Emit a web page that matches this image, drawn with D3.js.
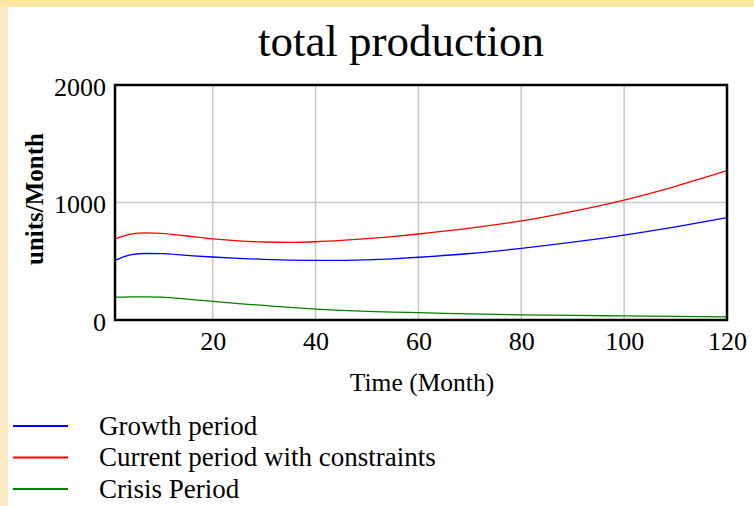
<!DOCTYPE html>
<html>
<head>
<meta charset="utf-8">
<script src="https://cdn.jsdelivr.net/npm/d3@7"></script>
<style>
  html, body { margin: 0; padding: 0; background: #fbebc2; }
  svg { display: block; }
</style>
</head>
<body>
<svg id="chart" width="754" height="506"></svg>
<script>
const times = [1, 4, 7, 10, 15, 20, 25, 30, 35, 40, 45, 50, 55, 60, 70, 80, 90, 100, 110, 120];
const growthPeriod = [508, 555, 566, 565, 550, 536, 525, 516, 510, 508, 507, 512, 521, 534, 566, 610, 662, 723, 793, 871];
const currentPeriod = [690, 730, 742, 738, 715, 690, 673, 664, 661, 666, 677, 692, 710, 732, 782, 843, 925, 1021, 1138, 1271];
const crisisPeriod = [195, 197, 197, 194, 178, 158, 140, 124, 107, 93, 82, 73, 67, 62, 52, 44, 39, 35, 31, 27];
const seriesNames = ["Growth period", "Current period with constraints", "Crisis Period"];
const seriesColors = ["#0000ff", "#ff0000", "#008000"];
const xTicks = [20, 40, 60, 80, 100, 120];
const yTicks = [0, 1000, 2000];

const svg = d3.select("#chart");
const W = 754, H = 506;
const font = "'Liberation Serif', 'DejaVu Serif', serif";

// background panels
svg.append("rect").attr("x", 0).attr("y", 0).attr("width", W).attr("height", 7).attr("fill", "#fde6a2");
svg.append("rect").attr("x", 0).attr("y", 7).attr("width", 8).attr("height", H - 7).attr("fill", "#faebc2");
svg.append("rect").attr("x", 8).attr("y", 7).attr("width", W - 8).attr("height", H - 7).attr("fill", "#ffffff");

const m = { left: 115, right: 727, top: 85, bottom: 320 };
const x = d3.scaleLinear().domain([1, 120]).range([m.left, m.right]);
const y = d3.scaleLinear().domain([0, 2000]).range([m.bottom, m.top]);

// gridlines
const g = svg.append("g");
g.selectAll("line.vg").data(xTicks.filter(t => t < 120)).join("line")
  .attr("x1", d => x(d)).attr("x2", d => x(d))
  .attr("y1", m.top).attr("y2", m.bottom)
  .attr("stroke", "#c8c8c8").attr("stroke-width", 1.5);
g.selectAll("line.hg").data(yTicks.filter(t => t > 0 && t < 2000)).join("line")
  .attr("x1", m.left).attr("x2", m.right)
  .attr("y1", d => y(d)).attr("y2", d => y(d))
  .attr("stroke", "#c8c8c8").attr("stroke-width", 1.5);

// series
const allSeries = [growthPeriod, currentPeriod, crisisPeriod];
const line = d3.line().x(d => x(d[0])).y(d => y(d[1])).curve(d3.curveMonotoneX);
allSeries.forEach((vals, i) => {
  svg.append("path")
    .datum(times.map((t, k) => [t, vals[k]]))
    .attr("d", line)
    .attr("fill", "none")
    .attr("stroke", seriesColors[i])
    .attr("stroke-width", 1.3);
});

// frame
svg.append("rect")
  .attr("x", m.left).attr("y", m.top)
  .attr("width", m.right - m.left).attr("height", m.bottom - m.top)
  .attr("fill", "none").attr("stroke", "#000").attr("stroke-width", 2.5);

// axes (labels only)
const xAxis = d3.axisBottom(x).tickValues(xTicks).tickFormat(d3.format("d")).tickSize(0).tickPadding(12);
const xg = svg.append("g").attr("transform", `translate(0,${m.bottom})`).call(xAxis);
xg.select(".domain").remove();
xg.selectAll("text").attr("font-family", font).attr("font-size", 26).attr("fill", "#000");

const yAxis = d3.axisLeft(y).tickValues(yTicks).tickFormat(d3.format("d")).tickSize(0).tickPadding(9);
const yg = svg.append("g").attr("transform", `translate(${m.left},0)`).call(yAxis);
yg.select(".domain").remove();
yg.selectAll("text").attr("font-family", font).attr("font-size", 26).attr("fill", "#000")
  .attr("dy", "0.4em");

// title
svg.append("text").attr("x", 401).attr("y", 56).attr("text-anchor", "middle")
  .attr("font-family", font).attr("font-size", 45).attr("fill", "#000").text("total production");

// axis titles
svg.append("text").attr("x", 422).attr("y", 391).attr("text-anchor", "middle")
  .attr("font-family", font).attr("font-size", 25.5).attr("fill", "#000").text("Time (Month)");
svg.append("text").attr("transform", "translate(43,199) rotate(-90)").attr("text-anchor", "middle")
  .attr("font-family", font).attr("font-size", 25).attr("font-weight", "bold").attr("fill", "#000").text("units/Month");

// legend
const lg = svg.append("g");
seriesNames.forEach((name, i) => {
  const yy = 426 + i * 31.5;
  lg.append("line").attr("x1", 13).attr("x2", 68).attr("y1", yy).attr("y2", yy)
    .attr("stroke", seriesColors[i]).attr("stroke-width", 2);
  lg.append("text").attr("x", 99).attr("y", yy + 8.5)
    .attr("font-family", font).attr("font-size", 27).attr("fill", "#000").text(name);
});
</script>
</body>
</html>
